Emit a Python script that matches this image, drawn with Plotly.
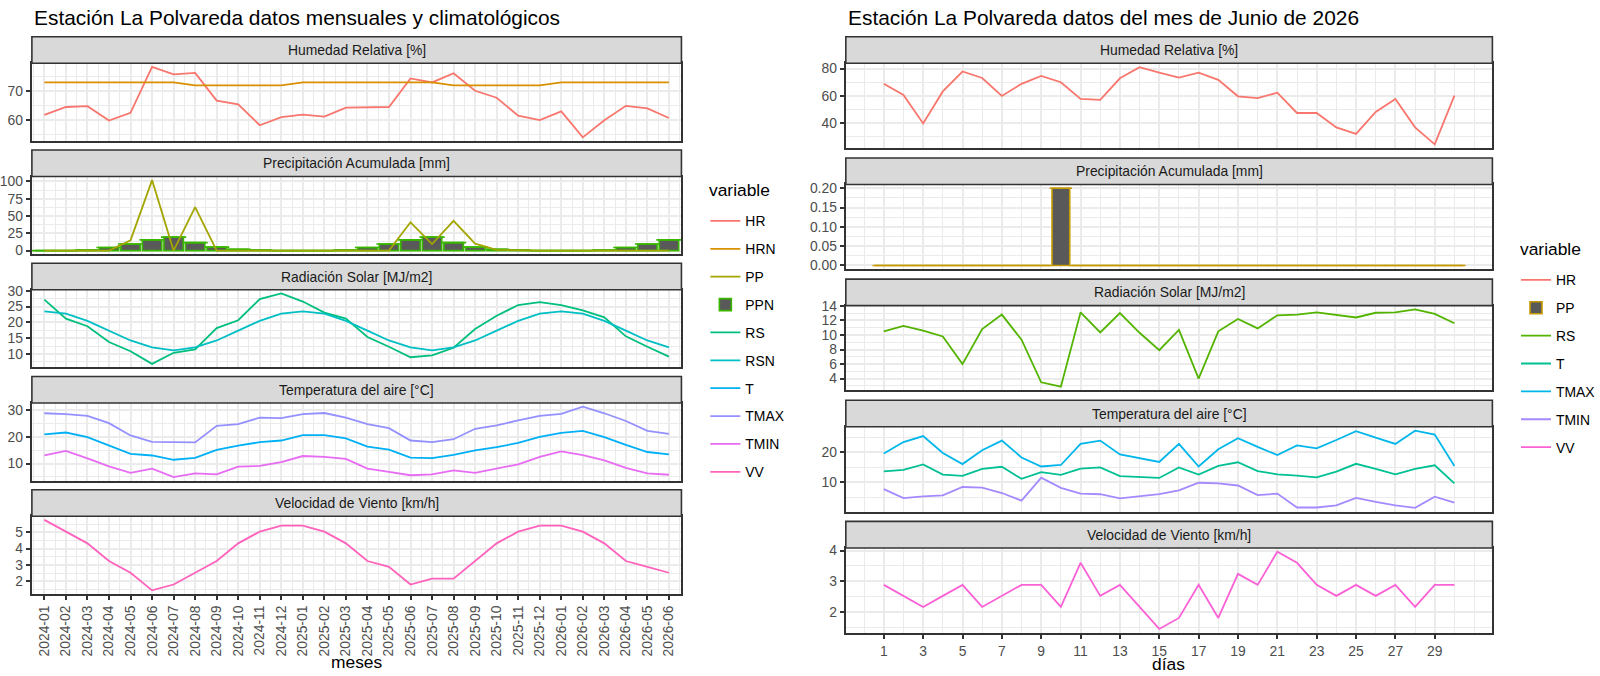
import plotly.graph_objects as go

# datos mensuales y climatologicos (panel izquierdo)
meses = ["2024-01", "2024-02", "2024-03", "2024-04", "2024-05", "2024-06",
         "2024-07", "2024-08", "2024-09", "2024-10", "2024-11", "2024-12",
         "2025-01", "2025-02", "2025-03", "2025-04", "2025-05", "2025-06",
         "2025-07", "2025-08", "2025-09", "2025-10", "2025-11", "2025-12",
         "2026-01", "2026-02", "2026-03", "2026-04", "2026-05", "2026-06"]
hr = [61.8, 64.5, 64.8, 59.8, 62.5, 78.4, 75.8, 76.3, 66.7, 65.4, 58.2, 61.0,
      61.9, 61.2, 64.3, 64.5, 64.5, 74.4, 73.0, 76.2, 70.1, 67.7, 61.5, 60.0,
      63.0, 54.0, 59.9, 64.9, 64.0, 60.7]
hrn = [73, 73, 73, 73, 73, 73, 73, 72, 72, 72, 72, 72,
       73, 73, 73, 73, 73, 73, 73, 72, 72, 72, 72, 72,
       73, 73, 73, 73, 73, 73]
pp = [0, 0, 0, 0, 15, 102, 0, 63, 0, 0, 0, 0,
      0, 0, 0, 0, 0, 41, 9.5, 43, 10, 1, 0, 0,
      0, 0, 0, 0, 0, 0]
ppn = [0, 0, 1, 4.5, 9.5, 15.5, 19.5, 11.5, 5, 2, 1, 0,
       0, 0, 1, 4.5, 9.5, 15.5, 19.5, 11.5, 5, 2, 1, 0,
       0, 0, 1, 4.5, 9.5, 15.5]
rs = [27.2, 21.2, 18.8, 13.8, 10.9, 6.9, 10.4, 11.5, 18.2, 20.7, 27.4, 29.2,
      26.6, 23.1, 21.2, 15.4, 12.3, 9.0, 9.6, 12.0, 17.9, 22.1, 25.5, 26.4,
      25.5, 23.8, 21.6, 15.6, 12.3, 9.2]
rsn = [23.5, 22.8, 20.5, 17.4, 14.3, 12.1, 11.2, 12.1, 14.3, 17.4, 20.5, 22.8,
       23.5, 22.8, 20.5, 17.4, 14.3, 12.1, 11.2, 12.1, 14.3, 17.4, 20.5, 22.8,
       23.5, 22.8, 20.5, 17.4, 14.3, 12.1]
t = [20.9, 21.6, 19.9, 16.9, 13.6, 13.0, 11.4, 12.1, 15.1, 16.7, 18.0, 18.6,
     20.6, 20.6, 19.4, 16.3, 15.2, 12.2, 12.0, 13.2, 14.9, 16.1, 17.7, 20.0,
     21.5, 22.2, 19.9, 17.0, 14.3, 13.4]
tmax = [28.8, 28.5, 27.8, 25.1, 20.5, 18.1, 18.0, 17.9, 24.1, 24.7, 27.2, 27.0,
        28.5, 28.9, 27.2, 24.7, 23.2, 18.6, 18.0, 19.1, 23.0, 24.3, 26.1, 27.8,
        28.6, 31.3, 28.8, 25.9, 22.2, 21.1]
tmin = [13.0, 14.7, 11.9, 8.9, 6.5, 8.1, 4.9, 6.3, 5.9, 8.8, 9.1, 10.5,
        12.8, 12.5, 11.7, 8.1, 6.9, 5.6, 5.9, 7.4, 6.5, 8.0, 9.7, 12.5,
        14.5, 13.1, 11.2, 8.4, 6.3, 5.8]
vv = [5.76, 5.04, 4.32, 3.24, 2.52, 1.44, 1.8, 2.52, 3.24, 4.32, 5.04, 5.4,
      5.4, 5.04, 4.32, 3.24, 2.88, 1.8, 2.16, 2.16, 3.24, 4.32, 5.04, 5.4,
      5.4, 5.04, 4.32, 3.24, 2.88, 2.52]

# datos diarios de junio 2026 (panel derecho)
dias = list(range(1, 31))
hr_d = [68.7, 60.5, 39.5, 63.1, 77.8, 73.0, 59.8, 68.7, 74.5, 69.9, 57.6, 56.9,
        72.8, 81.0, 76.9, 73.3, 76.9, 71.6, 59.5, 58.1, 62.2, 47.2, 47.2, 36.6,
        31.8, 48.0, 57.6, 36.6, 24.1, 60.0]
pp_d = [0, 0, 0, 0, 0, 0, 0, 0, 0, 0.2, 0, 0, 0, 0, 0, 0, 0, 0, 0, 0,
        0, 0, 0, 0, 0, 0, 0, 0, 0, 0]
rs_d = [10.5, 11.25, 10.6, 9.8, 6.0, 10.8, 12.8, 9.35, 3.5, 2.9, 13.1, 10.35,
        13.0, 10.3, 7.9, 10.7, 4.0, 10.5, 12.2, 10.9, 12.7, 12.8, 13.1, 12.7,
        12.4, 13.05, 13.1, 13.5, 12.9, 11.6]
t_d = [13.7, 14.2, 16.0, 12.6, 12.2, 14.5, 15.2, 11.2, 13.4, 12.5, 14.6, 15.0,
       12.1, 11.7, 11.5, 15.0, 12.6, 15.5, 16.7, 13.8, 12.7, 12.3, 11.7, 13.6,
       16.2, 14.5, 12.7, 14.5, 15.7, 9.7]
tmax_d = [19.6, 23.4, 25.4, 19.8, 16.1, 20.7, 23.9, 18.3, 15.3, 15.8, 22.8, 23.9,
          19.3, 18.0, 16.8, 22.8, 15.3, 21.0, 24.7, 21.8, 19.1, 22.3, 21.3, 24.1,
          27.0, 24.9, 22.8, 27.2, 25.9, 15.5]
tmin_d = [7.8, 4.8, 5.4, 5.7, 8.5, 8.3, 6.5, 4.0, 11.6, 8.2, 6.3, 6.1,
          4.7, 5.5, 6.1, 7.4, 9.9, 9.7, 9.0, 5.8, 6.3, 1.7, 1.7, 2.4,
          4.9, 3.6, 2.4, 1.6, 5.3, 3.3]
vv_d = [2.88, 2.52, 2.16, 2.52, 2.88, 2.16, 2.52, 2.88, 2.88, 2.16, 3.6, 2.52,
        2.88, 2.16, 1.44, 1.8, 2.88, 1.8, 3.24, 2.88, 3.96, 3.6, 2.88, 2.52,
        2.88, 2.52, 2.88, 2.16, 2.88, 2.88]

titulos = ["Humedad Relativa [%]", "Precipitación Acumulada [mm]",
           "Radiación Solar [MJ/m2]", "Temperatura del aire [°C]",
           "Velocidad de Viento [km/h]"]

W, H = 1600, 676
FONT = "Liberation Sans"
n_mes = list(range(1, len(meses) + 1))


def px(x):
    return x / W


def py(y):
    return 1 - y / H


def pad(*series):
    vals = [v for s in series for v in s]
    lo, hi = min(vals), max(vals)
    d = 0.05 * (hi - lo)
    return [lo - d, hi + d]


def xn(k):
    return "x" if k == 1 else "x%d" % k


def yn(k):
    return "y" if k == 1 else "y%d" % k


fig = go.Figure()
LW = 1.8


def linea(x, y, name, color, k, legend):
    fig.add_trace(go.Scatter(x=x, y=y, name=name, mode="lines",
                             line=dict(color=color, width=LW),
                             xaxis=xn(k), yaxis=yn(k), legend=legend,
                             legendgroup=legend + name))


def barras(x, y, name, borde, k, legend):
    fig.add_trace(go.Bar(x=x, y=y, name=name, width=0.9,
                         marker=dict(color="#595959", line=dict(color=borde, width=1.6)),
                         xaxis=xn(k), yaxis=yn(k), legend=legend,
                         legendgroup=legend + name))


def rayas(x, y, borde, k, ancho_px):
    # ggplot dibuja el borde de las barras de altura cero
    fig.add_trace(go.Scatter(x=x, y=y, mode="markers", showlegend=False, hoverinfo="skip",
                             marker=dict(symbol="line-ew", size=ancho_px,
                                         line=dict(color=borde, width=1.6)),
                             xaxis=xn(k), yaxis=yn(k)))


# izquierda
linea(n_mes, hr, "HR", "#F8766D", 1, "legend")
linea(n_mes, hrn, "HRN", "#D89000", 1, "legend")
rayas(n_mes, ppn, "#39B600", 2, 18)
linea(n_mes, pp, "PP", "#A3A500", 2, "legend")
barras(n_mes, ppn, "PPN", "#39B600", 2, "legend")
linea(n_mes, rs, "RS", "#00BF7D", 3, "legend")
linea(n_mes, rsn, "RSN", "#00BFC4", 3, "legend")
linea(n_mes, t, "T", "#00B0F6", 4, "legend")
linea(n_mes, tmax, "TMAX", "#9590FF", 4, "legend")
linea(n_mes, tmin, "TMIN", "#E76BF3", 4, "legend")
linea(n_mes, vv, "VV", "#FF62BC", 5, "legend")

# derecha
linea(dias, hr_d, "HR", "#F8766D", 6, "legend2")
barras(dias, pp_d, "PP", "#C49A00", 7, "legend2")
rayas(dias, pp_d, "#C49A00", 7, 16)
linea(dias, rs_d, "RS", "#53B400", 8, "legend2")
linea(dias, t_d, "T", "#00C094", 9, "legend2")
linea(dias, tmax_d, "TMAX", "#00B6EB", 9, "legend2")
linea(dias, tmin_d, "TMIN", "#A58AFF", 9, "legend2")
linea(dias, vv_d, "VV", "#FB61D7", 10, "legend2")

rangos_izq = [pad(hr, hrn), pad(pp, ppn), pad(rs, rsn), pad(t, tmax, tmin), pad(vv)]
dticks_izq = [10, 25, 5, 10, 1]
rangos_der = [pad(hr_d), pad(pp_d), pad(rs_d), pad(t_d, tmax_d, tmin_d), pad(vv_d)]
dticks_der = [20, 0.05, 2, 10, 1]

GRID = "#EBEBEB"
BORDE = "#333333"
TICKF = dict(family=FONT, size=13.9, color="#4D4D4D")
shapes, annots, lay = [], [], {}

geom = [
    # x0, x1, top, periodo, alto franja, alto panel, rango x
    (31, 683, 29.3, 115.3, 27, 79, [0.42, 30.58], rangos_izq, dticks_izq, 0),
    (848, 1497, 29.3, 123.35, 27, 86.4, [-0.93, 31.93], rangos_der, dticks_der, 5),
]
for x0, x1, top0, per, sh, ph, xr, rangos, dts, off in geom:
    for i in range(5):
        k = i + 1 + off
        s_top = top0 + i * per
        p_top = s_top + sh
        p_bot = p_top + ph
        ultimo = i == 4
        xa = dict(domain=[px(x0), px(x1)], anchor=yn(k), range=xr,
                  showline=True, mirror=True, linecolor=BORDE, linewidth=1.6,
                  showgrid=True, gridcolor=GRID, gridwidth=1.8, zeroline=False,
                  ticks="outside" if ultimo else "", ticklen=4.3, tickwidth=1.5,
                  tickcolor=BORDE, showticklabels=ultimo, tickfont=TICKF,
                  minor=dict(showgrid=True, gridcolor=GRID, gridwidth=0.9))
        if off == 0:
            xa.update(tickmode="array", tickvals=n_mes, ticktext=meses, tickangle=-90)
            xa["minor"].update(tickmode="linear", tick0=0.5, dtick=1)
        else:
            xa.update(tickmode="array", tickvals=dias[::2])
            xa["minor"].update(tickmode="linear", tick0=0, dtick=1)
        dt = dts[i]
        ya = dict(domain=[py(p_bot), py(p_top)], anchor=xn(k), range=rangos[i],
                  showline=True, mirror=True, linecolor=BORDE, linewidth=1.6,
                  showgrid=True, gridcolor=GRID, gridwidth=1.8, zeroline=False,
                  tickmode="linear", tick0=0, dtick=dt,
                  ticks="outside", ticklen=4.3, tickwidth=1.5, tickcolor=BORDE,
                  tickfont=TICKF,
                  minor=dict(showgrid=True, gridcolor=GRID, gridwidth=0.9,
                             tickmode="linear", tick0=dt / 2, dtick=dt))
        if dt < 1:
            ya["tickformat"] = ".2f"
        lay["xaxis" if k == 1 else "xaxis%d" % k] = xa
        lay["yaxis" if k == 1 else "yaxis%d" % k] = ya
        shapes.append(dict(type="rect", xref="paper", yref="paper",
                           x0=px(x0), x1=px(x1), y0=py(p_top), y1=py(s_top),
                           fillcolor="#D9D9D9", line=dict(color=BORDE, width=1.6)))
        annots.append(dict(text=titulos[i], xref="paper", yref="paper",
                           x=px((x0 + x1) / 2), y=py((s_top + p_top) / 2),
                           showarrow=False, xanchor="center", yanchor="middle",
                           font=dict(family=FONT, size=13.9, color="#1A1A1A")))


def texto(s, x, y, size, xanchor="left"):
    annots.append(dict(text=s, xref="paper", yref="paper", x=px(x), y=py(y),
                       xanchor=xanchor, yanchor="middle", showarrow=False,
                       font=dict(family=FONT, size=size, color="black")))


texto("Estación La Polvareda datos mensuales y climatológicos", 31, 10, 20.9)
texto("Estación La Polvareda datos del mes de Junio de 2026", 848, 10, 20.9)
texto("meses", 357, 666, 17.4, "center")
texto("días", 1172, 668, 17.4, "center")
texto("variable", 709, 185, 17.4)
texto("variable", 1523, 245, 17.4)

leyenda = dict(xanchor="left", yanchor="top", bgcolor="rgba(0,0,0,0)",
               font=dict(family=FONT, size=13.9, color="black"),
               tracegroupgap=6.8, itemwidth=30, traceorder="grouped")

fig.update_layout(
    width=W, height=H, autosize=False,
    margin=dict(l=0, r=0, t=0, b=0),
    paper_bgcolor="white", plot_bgcolor="white",
    font=dict(family=FONT),
    showlegend=True, barmode="overlay",
    legend=dict(leyenda, x=px(707), y=py(201)),
    legend2=dict(leyenda, x=px(1521), y=py(261)),
    shapes=shapes, annotations=annots,
    **lay,
)

# sin el margen por defecto del body, la figura llena la ventana
fig.write_html("out.html", config={"displayModeBar": False},
               post_script="document.body.style.margin = '0';")
